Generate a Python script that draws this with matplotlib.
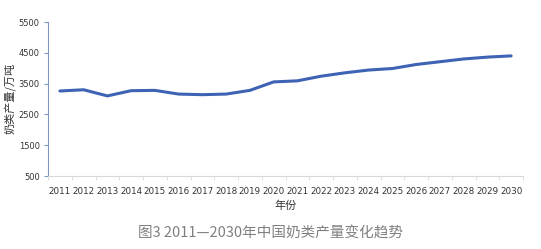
import matplotlib
matplotlib.use("Agg")
import matplotlib.pyplot as plt

plt.rcParams['font.family'] = ['Noto Sans CJK SC', 'DejaVu Sans']

years = [str(y) for y in range(2011, 2031)]
production = [3260, 3300, 3100, 3270, 3280, 3160, 3140, 3160, 3280, 3555,
              3590, 3740, 3850, 3940, 3990, 4120, 4210, 4300, 4360, 4400]
yticks = [500, 1500, 2500, 3500, 4500, 5500]

fig = plt.figure(figsize=(5.41, 2.49), dpi=100)
ax = fig.add_axes([48/541, 1-176/249, (523-48)/541, (176-22)/249])

x = list(range(len(years)))
ax.plot(x, production, color='#3E63B5', lw=2.2, solid_capstyle='round')
ax.set_xlim(-0.5, len(years)-0.5)
ax.set_ylim(500, 5500)
ax.set_yticks(yticks)
ax.set_yticklabels([str(v) for v in yticks], fontsize=6, color='#333333',
                   family='DejaVu Sans')
ax.set_xticks(x)
ax.set_xticklabels(years, fontsize=6.3, color='#333333', family='DejaVu Sans')
ax.set_xticks([i - 0.5 for i in range(len(years)+1)], minor=True)
ax.tick_params(axis='x', which='major', length=0, pad=8)
ax.tick_params(axis='x', which='minor', length=3, color='#d9d9d9')
ax.tick_params(axis='y', length=3, color='#7f95c8', pad=3)
for s in ['top', 'right']:
    ax.spines[s].set_visible(False)
ax.spines['left'].set_color('#7f95c8')
ax.spines['bottom'].set_color('#d9d9d9')
ax.set_xlabel('年份', fontsize=8, color='#333333', labelpad=3)
fig.text(10/541, 1-98/249, '奶类产量/万吨', rotation=90, ha='center', va='center',
         fontsize=8, color='#333333')
fig.text(0.5, 1-233/249, '图3 2011—2030年中国奶类产量变化趋势',
         ha='center', va='center', fontsize=10.5, color='#808080')
fig.savefig('out.png', dpi=100)
